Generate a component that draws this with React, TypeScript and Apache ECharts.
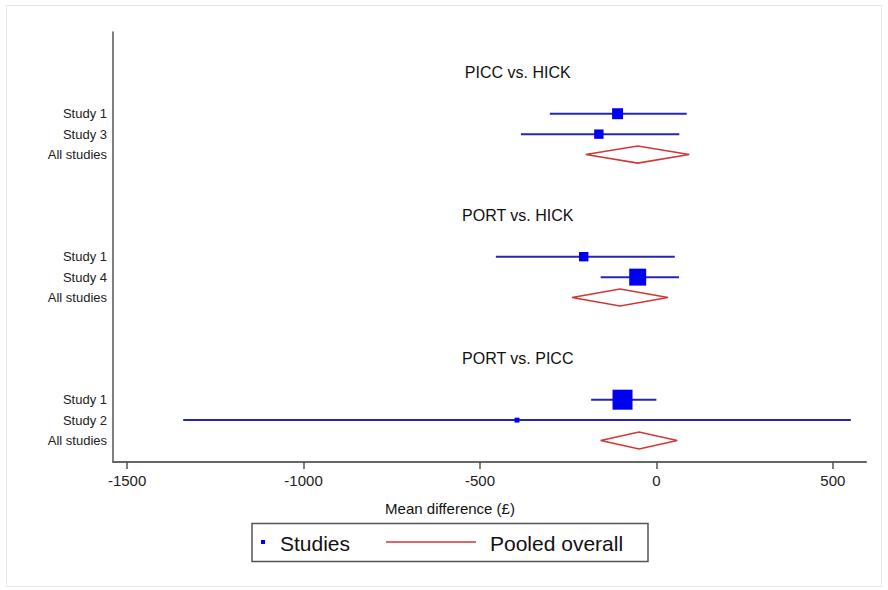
import React, { useEffect, useRef } from "react";
import * as echarts from "echarts";

// Comparison groups
const groupTitles = ["PICC vs. HICK", "PORT vs. HICK", "PORT vs. PICC"];
const groupTitleRows = [0, 7, 14];

// Individual studies (mean difference, £)
const studyLabels = ["Study 1", "Study 3", "Study 1", "Study 4", "Study 1", "Study 2"];
const studyRows = [2, 3, 9, 10, 16, 17];
const studyMeans = [-110, -163, -206, -53, -96, -395];
const studyLower = [-302, -384, -455, -158, -185, -1341];
const studyUpper = [86, 65, 52, 64, 0, 551];
const studyWeights = [30, 22, 22, 72, 100, 6];

// Pooled estimates
const pooledRows = [4, 11, 18];
const pooledMeans = [-53, -103, -49];
const pooledLower = [-200, -239, -158];
const pooledUpper = [93, 33, 59];

const xTicks = [-1500, -1000, -500, 0, 500];

export default function App() {
  const ref = useRef<HTMLDivElement>(null);
  useEffect(() => {
    if (!ref.current) return;
    const chart = echarts.init(ref.current, null, { renderer: "svg" });

    const rowLabel: Record<number, string> = {};
    studyRows.forEach((r, i) => (rowLabel[r] = studyLabels[i]));
    pooledRows.forEach((r) => (rowLabel[r] = "All studies"));
    const labelRows = Object.keys(rowLabel).map(Number).sort((a, b) => a - b);

    const studyData = studyRows.map((r, i) => [
      studyLower[i], studyUpper[i], studyMeans[i], r, studyWeights[i],
    ]);
    const pooledData = pooledRows.map((r, i) => [
      pooledLower[i], pooledUpper[i], pooledMeans[i], r,
    ]);
    const titleX = -393;
    const titleData = groupTitles.map((t, i) => [titleX, groupTitleRows[i], t]);

    const font = "Liberation Sans, Arial, Helvetica, sans-serif";

    chart.setOption({
      animation: false,
      grid: { left: 113, right: 22, top: 32, bottom: 128, containLabel: false },
      xAxis: {
        type: "value",
        min: -1540,
        max: 594,
        axisLine: { show: true, onZero: false, lineStyle: { color: "#666", width: 2 } },
        axisTick: {
          show: true,
          customValues: xTicks,
          length: 7,
          lineStyle: { color: "#555", width: 1.5 },
        },
        axisLabel: {
          customValues: xTicks,
          formatter: (v: number) => String(v),
          fontSize: 15,
          color: "#222",
          fontFamily: font,
          margin: 11,
        },
        splitLine: { show: false },
      },
      yAxis: {
        type: "value",
        inverse: true,
        min: -2,
        max: 19.05,
        axisLine: { show: true, onZero: false, lineStyle: { color: "#555", width: 1.5 } },
        axisTick: { show: false },
        splitLine: { show: false },
        axisLabel: {
          customValues: labelRows,
          formatter: (v: number) => rowLabel[Math.round(v)] || "",
          fontSize: 13,
          color: "#222",
          fontFamily: font,
          margin: 6,
        },
      },
      series: [
        {
          type: "custom",
          name: "Studies",
          data: studyData,
          renderItem: (params: any, api: any) => {
            const row = api.value(3);
            const lo = api.coord([api.value(0), row]);
            const hi = api.coord([api.value(1), row]);
            const pt = api.coord([api.value(2), row]);
            const s = 20 * Math.sqrt(api.value(4) / 100);
            return {
              type: "group",
              children: [
                {
                  type: "line",
                  shape: { x1: lo[0], y1: lo[1], x2: hi[0], y2: hi[1] },
                  style: { stroke: "#2626b4", lineWidth: 2 },
                },
                {
                  type: "rect",
                  shape: { x: pt[0] - s / 2, y: pt[1] - s / 2, width: s, height: s },
                  style: { fill: "#0000f0" },
                },
              ],
            };
          },
        },
        {
          type: "custom",
          name: "Pooled overall",
          data: pooledData,
          renderItem: (params: any, api: any) => {
            const row = api.value(3);
            const lo = api.coord([api.value(0), row]);
            const hi = api.coord([api.value(1), row]);
            const pt = api.coord([api.value(2), row]);
            const h = 8.5;
            return {
              type: "polygon",
              shape: {
                points: [
                  [lo[0], lo[1]],
                  [pt[0], pt[1] - h],
                  [hi[0], hi[1]],
                  [pt[0], pt[1] + h],
                ],
              },
              style: { fill: "none", stroke: "#d33636", lineWidth: 1.6 },
            };
          },
        },
        {
          type: "custom",
          name: "titles",
          data: titleData,
          renderItem: (params: any, api: any) => {
            const p = api.coord([api.value(0), api.value(1)]);
            return {
              type: "text",
              x: p[0],
              y: p[1],
              style: {
                text: titleData[params.dataIndex][2] as string,
                fill: "#111",
                fontSize: 16,
                fontFamily: font,
                align: "center",
                verticalAlign: "middle",
              },
            };
          },
        },
      ],
      graphic: [
        {
          type: "rect",
          shape: { x: 6.5, y: 5.5, width: 875, height: 581 },
          style: { fill: "none", stroke: "#e8e8e8", lineWidth: 1 },
          silent: true,
        },
        {
          type: "text",
          x: 450,
          y: 508,
          style: {
            text: "Mean difference (£)",
            fill: "#111",
            fontSize: 15,
            fontFamily: font,
            align: "center",
            verticalAlign: "middle",
          },
        },
        {
          type: "rect",
          shape: { x: 252, y: 523.5, width: 396, height: 38 },
          style: { fill: "#fff", stroke: "#555", lineWidth: 1.5 },
        },
        {
          type: "rect",
          shape: { x: 261, y: 540, width: 4, height: 4 },
          style: { fill: "#0000f0" },
        },
        {
          type: "text",
          x: 280,
          y: 543,
          style: {
            text: "Studies",
            fill: "#111",
            fontSize: 21,
            fontFamily: font,
            align: "left",
            verticalAlign: "middle",
          },
        },
        {
          type: "line",
          shape: { x1: 386, y1: 542, x2: 476, y2: 542 },
          style: { stroke: "#d33636", lineWidth: 1.6 },
        },
        {
          type: "text",
          x: 490,
          y: 543,
          style: {
            text: "Pooled overall",
            fill: "#111",
            fontSize: 21,
            fontFamily: font,
            align: "left",
            verticalAlign: "middle",
          },
        },
      ],
    });
    return () => chart.dispose();
  }, []);
  return (
    <div
      ref={ref}
      style={{ position: "fixed", left: 0, top: 0, width: 888, height: 590, background: "#fff" }}
    />
  );
}
